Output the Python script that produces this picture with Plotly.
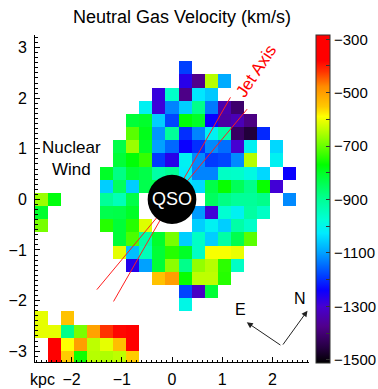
import numpy as np
import plotly.graph_objects as go

# ---- velocity map (km/s), stored as runs: (row, first column, values); None = no detection
# rows count downward from the top of the map, columns from the left edge
northern_lobe = [
    (2, 11, [-1185]),
    (3, 11, [-1270, -1375, -645, -1090]),
    (4, 9, [-1285, -960, -1380, -1030, -1060]),
    (5, 8, [-1010, -1290, -1125, -1055, -890, -1135, -1340, -1410]),
    (6, 7, [-815, -805, -1055, -1180, -775, -800, -1240, -1350, -1330, -1385]),
    (7, 7, [-710, -790, -1110, -905, -1200, -1125, -1010, -920, -1420, -1460, -1205]),
    (8, 6, [-830, -665, -800, -1100, -1150, -1240, -1200, -1120, -1145, -1300, -1010, None, -1045]),
    (9, 6, [-815, -775, -735, -1190, -1270, -1010, -1120, -1190, -1180, -1120, -645, None, -1010]),
]
central_band = [
    (10, 5, [-800, -885, -815, -830, -920, -900, -1020, -1125, -1125, -955, -960, -990, -1045, None, -1240]),
    (11, 5, [-1055, -850, -1055, -835, -835, None, -1030, -1045, -830, -765, -845, -890, -765, -1295]),
    (12, 5, [-905, -940, -830, None, None, None, None, None, -850, -885, -905, -905, -890, None, -1120]),
    (13, 5, [-835, -830, -800, None, None, None, None, -1105, -1295, -970, -1010, -915, -955]),
    (14, 5, [-745, -815, -745, -615, None, None, None, -1055, -1010, -1055, -920, -960]),
]
southern_lobe = [
    (15, 6, [-815, -720, -920, -805, -690, -1055, -955, -1055, -920, -835, -710]),
    (16, 6, [-610, -1070, -940, -815, -745, -800, -955, -595, -595, -605]),
    (17, 7, [-1265, -1100, -815, -675, -890, -670, -645, -740, -955]),
    (18, 9, [-545, -500, -765, -640, -640, -745]),
    (19, 11, [-1180, -1315, -815]),
    (20, 11, [-995]),
]
west_patch = [
    (12, 0, [-665, -780]),
    (13, 0, [-805]),
    (14, 0, [-690]),
]
corner_clump = [
    (21, 0, [-608, None, -545]),
    (22, 0, [-608, -608, -890, -688, -505, -420, -385, -345]),
    (23, 0, [None, -345, -590, -500, -640, -608, -540, -350]),
    (24, 0, [None, -350, -555, -760, -645, -650, -640, -555]),
]

# grid geometry (kpc): 21 x 25 spaxels, centre spaxel at the QSO
cell_kpc = 0.26
n_cols, n_rows = 21, 25
centre_col, centre_row = 10, 12

# colour table (km/s -> rgb)
cmin, cmax = -1512, -284
stop_values = [-1512, -1450, -1375, -1300, -1240, -1188, -1101, -1026, -976, -901,
               -801, -770, -689, -639, -589, -552, -477, -420, -380, -284]
stop_colors = ["rgb(0,0,0)", "rgb(40,0,70)", "rgb(80,0,140)", "rgb(70,0,210)",
               "rgb(10,0,255)", "rgb(0,60,255)", "rgb(0,160,255)", "rgb(0,235,255)",
               "rgb(0,255,215)", "rgb(0,255,150)", "rgb(0,255,40)", "rgb(0,255,0)",
               "rgb(120,255,0)", "rgb(190,255,0)", "rgb(255,255,0)", "rgb(255,200,0)",
               "rgb(255,140,0)", "rgb(255,50,0)", "rgb(255,0,0)", "rgb(255,0,0)"]
cbar_ticks = list(range(-1500, -299, 100))
cbar_labels = [("\u2212%d" % -v) if (v + 300) % 200 == 0 else "" for v in cbar_ticks]

# jet axis cone (degrees from +x) and drawn half-length (kpc)
jet_angles_deg = [50, 60]
jet_half_length = 2.33
qso_radius = 0.485

# ---- assemble the map
z = np.full((n_rows, n_cols), np.nan)
for region in (northern_lobe, central_band, southern_lobe, west_patch, corner_clump):
    for row, col0, vals in region:
        for k, v in enumerate(vals):
            if v is not None:
                z[row, col0 + k] = v

xc = [(c - centre_col) * cell_kpc for c in range(n_cols)]
yc = [(centre_row - r) * cell_kpc for r in range(n_rows)]

colorscale = [[(v - cmin) / (cmax - cmin), col] for v, col in zip(stop_values, stop_colors)]

font_family = "Liberation Sans, Arial, sans-serif"

fig = go.Figure()
fig.add_trace(go.Heatmap(
    x=xc, y=yc, z=z, zmin=cmin, zmax=cmax, colorscale=colorscale,
    hoverinfo="skip", zsmooth=False,
    colorbar=dict(
        thickness=14, thicknessmode="pixels", len=328, lenmode="pixels",
        x=1.024, xanchor="left", xpad=0, y=1, yanchor="top", ypad=0,
        outlinewidth=1, outlinecolor="#333",
        tickvals=cbar_ticks, ticktext=cbar_labels, ticks="inside", ticklen=4,
        tickcolor="#333", tickfont=dict(size=15, color="black", family=font_family),
    ),
))

shapes = []
for ang in jet_angles_deg:
    a = np.radians(ang)
    dx, dy = jet_half_length * np.cos(a), jet_half_length * np.sin(a)
    shapes.append(dict(type="line", xref="x", yref="y", x0=-dx, y0=-dy, x1=dx, y1=dy,
                       line=dict(color="rgb(255,30,30)", width=1)))
shapes.append(dict(type="circle", xref="x", yref="y",
                   x0=-qso_radius, x1=qso_radius, y0=-qso_radius, y1=qso_radius,
                   fillcolor="black", line=dict(color="black", width=0)))

annotations = [
    dict(text="QSO", x=0, y=0, xref="x", yref="y", showarrow=False,
         font=dict(size=18, color="white", family=font_family)),
    dict(text="Jet Axis", x=1.69, y=2.54, xref="x", yref="y", showarrow=False,
         textangle=-56.6, font=dict(size=17, color="red", family=font_family)),
    dict(text="Nuclear<br>Wind", x=-2.01, y=0.81, xref="x", yref="y", showarrow=False,
         align="center", font=dict(size=17, color="black", family=font_family)),
    dict(text="Neutral Gas Velocity (km/s)", x=0.538, y=1.055, xref="paper", yref="paper",
         showarrow=False, yanchor="middle",
         font=dict(size=18, color="black", family=font_family)),
    dict(text="kpc", x=-0.027, y=-0.054, xref="paper", yref="paper", showarrow=False,
         yanchor="middle", font=dict(size=16, color="black", family=font_family)),
    # compass: E and N arrows
    dict(text="", x=1.49, y=-2.43, ax=2.19, ay=-2.90, xref="x", yref="y",
         axref="x", ayref="y", showarrow=True, arrowhead=2, arrowsize=1.2,
         arrowwidth=1, arrowcolor="#222"),
    dict(text="", x=2.70, y=-2.20, ax=2.19, ay=-2.90, xref="x", yref="y",
         axref="x", ayref="y", showarrow=True, arrowhead=2, arrowsize=1.2,
         arrowwidth=1, arrowcolor="#222"),
    dict(text="E", x=1.36, y=-2.17, xref="x", yref="y", showarrow=False,
         font=dict(size=16, color="black", family=font_family)),
    dict(text="N", x=2.56, y=-1.95, xref="x", yref="y", showarrow=False,
         font=dict(size=16, color="black", family=font_family)),
]

axis_common = dict(
    showgrid=False, zeroline=False, showline=True, linecolor="black", linewidth=1,
    ticks="inside", ticklen=5, tickcolor="black", tickwidth=1,
    tickfont=dict(size=16, color="black", family=font_family),
    minor=dict(dtick=0.1, ticks="inside", ticklen=2.5, tickcolor="black", tickwidth=1),
    mirror=False, automargin=False,
)

fig.update_layout(
    width=378, height=389,
    margin=dict(l=35, r=69, t=35, b=27, autoexpand=False),
    paper_bgcolor="white", plot_bgcolor="white",
    font=dict(family=font_family, color="black"),
    shapes=shapes, annotations=annotations,
    xaxis=dict(range=[-2.73, 2.73], tickvals=[-2, -1, 0, 1, 2],
               ticklabelstandoff=3, **axis_common),
    yaxis=dict(range=[-3.215, 3.25], tickvals=[-3, -2, -1, 0, 1, 2, 3],
               ticklabelstandoff=4, **axis_common),
    showlegend=False,
)

fig.write_html("out.html")
